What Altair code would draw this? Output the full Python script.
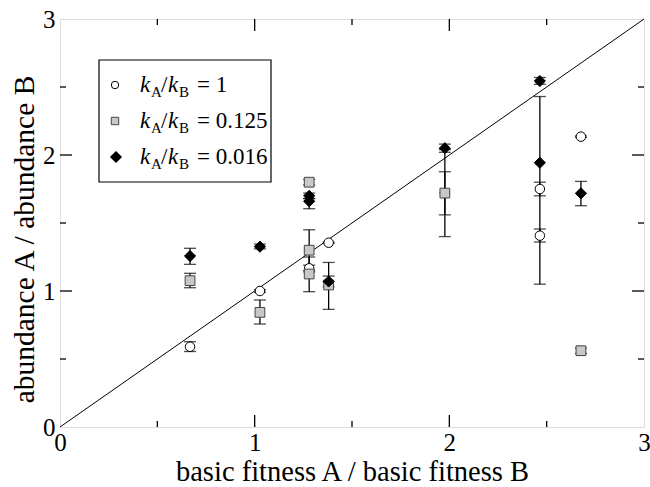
import altair as alt
import pandas as pd

# ---------------- data ----------------
# k_A/k_B = 1  (open circles)
c_x  = [0.668, 1.027, 1.28, 1.38, 1.977, 2.465, 2.465, 2.676]
c_y  = [0.59, 1.00, 1.167, 1.355, 1.72, 1.75, 1.407, 2.135]
c_lo = [0.555, 0.99, 1.14, 1.35, 1.56, 1.70, 1.36, 2.13]
c_hi = [0.627, 1.01, 1.19, 1.36, 1.877, 1.80, 1.456, 2.14]

# k_A/k_B = 0.125  (grey squares)
s_x  = [0.668, 1.027, 1.28, 1.28, 1.28, 1.38, 1.977, 2.676]
s_y  = [1.076, 0.843, 1.80, 1.30, 1.125, 1.044, 1.72, 0.561]
s_lo = [1.024, 0.757, 1.78, 1.15, 0.995, 0.865, 1.40, 0.54]
s_hi = [1.13, 0.934, 1.82, 1.45, 1.25, 1.21, 2.04, 0.58]

# k_A/k_B = 0.016  (black diamonds)
d_x  = [0.668, 1.027, 1.28, 1.28, 1.38, 1.977, 2.465, 2.465, 2.676]
d_y  = [1.257, 1.326, 1.70, 1.66, 1.07, 2.05, 2.544, 1.943, 1.718]
d_lo = [1.196, 1.31, 1.68, 1.605, 1.03, 2.02, 2.52, 1.05, 1.627]
d_hi = [1.314, 1.345, 1.72, 1.68, 1.11, 2.08, 2.57, 2.43, 1.806]

diag_x = [0, 3]
diag_y = [0, 3]

tick_labels = [0, 1, 2, 3]
major_ticks = [1, 2]
minor_ticks = [0.5, 1.5, 2.5]

legend_values = ["= 1", "= 0.125", "= 0.016"]

# ---------------- layout constants ----------------
W, H = 584, 408
FONT = "'Liberation Serif', 'Times New Roman', Times, 'DejaVu Serif', serif"

df_c = pd.DataFrame({"x": c_x, "y": c_y, "lo": c_lo, "hi": c_hi})
df_s = pd.DataFrame({"x": s_x, "y": s_y, "lo": s_lo, "hi": s_hi})
df_d = pd.DataFrame({"x": d_x, "y": d_y, "lo": d_lo, "hi": d_hi})
df_err = pd.concat([df_c, df_s, df_d], ignore_index=True)
df_diag = pd.DataFrame({"x": diag_x, "y": diag_y})

xscale = alt.Scale(domain=[0, 3], nice=False, zero=False)
yscale = alt.Scale(domain=[0, 3], nice=False, zero=False)

xaxis = alt.Axis(values=tick_labels, format="d", ticks=False, domain=False, grid=False,
                 labelFont=FONT, labelFontSize=25, labelColor="black", labelPadding=3,
                 labelFlush=False, labelOverlap=False, labelBound=False,
                 title="basic fitness A / basic fitness B", titleFont=FONT,
                 titleFontSize=28.5, titleFontWeight="normal", titleColor="black",
                 titleBaseline="alphabetic", titleY=53)
yaxis = alt.Axis(values=tick_labels, format="d", ticks=False, domain=False, grid=False,
                 labelFont=FONT, labelFontSize=25, labelColor="black", labelPadding=5,
                 labelFlush=False, labelOverlap=False, labelBound=False,
                 title="abundance A / abundance B", titleFont=FONT,
                 titleFontSize=29.5, titleFontWeight="normal", titleColor="black",
                 titleBaseline="alphabetic", titleX=-27, titleY=220, titleAngle=-90)

base_x = alt.X("x:Q", scale=xscale, axis=xaxis)
base_y = alt.Y("y:Q", scale=yscale, axis=yaxis)

diag = alt.Chart(df_diag).mark_line(color="black", strokeWidth=1).encode(x=base_x, y=base_y)

err_bar = alt.Chart(df_err).mark_rule(color="black", strokeWidth=1.3).encode(
    x=alt.X("x:Q", scale=xscale), y=alt.Y("lo:Q", scale=yscale), y2="hi:Q")
cap_lo = alt.Chart(df_err).mark_tick(orient="horizontal", size=12, thickness=1.3, color="black").encode(
    x=alt.X("x:Q", scale=xscale), y=alt.Y("lo:Q", scale=yscale))
cap_hi = alt.Chart(df_err).mark_tick(orient="horizontal", size=12, thickness=1.3, color="black").encode(
    x=alt.X("x:Q", scale=xscale), y=alt.Y("hi:Q", scale=yscale))

pts_c = alt.Chart(df_c).mark_point(shape="circle", size=90, filled=True, fill="white",
                                   stroke="black", strokeWidth=1, opacity=1).encode(
    x=alt.X("x:Q", scale=xscale), y=alt.Y("y:Q", scale=yscale))
pts_s = alt.Chart(df_s).mark_point(shape="square", size=95, filled=True, fill="#c8c8c8",
                                   stroke="#444444", strokeWidth=1, opacity=1).encode(
    x=alt.X("x:Q", scale=xscale), y=alt.Y("y:Q", scale=yscale))
pts_d = alt.Chart(df_d).mark_point(shape="diamond", size=125, filled=True, fill="black",
                                   stroke="black", strokeWidth=1, opacity=1).encode(
    x=alt.X("x:Q", scale=xscale), y=alt.Y("y:Q", scale=yscale))

# inward axis ticks on all four sides
df_maj = pd.DataFrame({"v": major_ticks})
df_min = pd.DataFrame({"v": minor_ticks})

def xticks(df, length):
    bot = alt.Chart(df).mark_rule(color="black", strokeWidth=1.3).encode(
        x=alt.X("v:Q", scale=xscale), y=alt.value(H), y2=alt.value(H - length))
    top = alt.Chart(df).mark_rule(color="black", strokeWidth=1.3).encode(
        x=alt.X("v:Q", scale=xscale), y=alt.value(0), y2=alt.value(length))
    return bot + top

def yticks(df, length):
    left = alt.Chart(df).mark_rule(color="black", strokeWidth=1.3).encode(
        y=alt.Y("v:Q", scale=yscale), x=alt.value(0), x2=alt.value(length))
    right = alt.Chart(df).mark_rule(color="black", strokeWidth=1.3).encode(
        y=alt.Y("v:Q", scale=yscale), x=alt.value(W), x2=alt.value(W - length))
    return left + right

ticks = xticks(df_maj, 12) + xticks(df_min, 6) + yticks(df_maj, 12) + yticks(df_min, 6)

# ---------------- manual legend ----------------
row_y = [66, 102, 138]
leg_box = alt.Chart(pd.DataFrame({"a": [0]})).mark_rect(
    fill="white", stroke="black", strokeWidth=1.2).encode(
    x=alt.value(39), x2=alt.value(211), y=alt.value(41), y2=alt.value(163))

leg_sym = pd.DataFrame({"px": [55, 55, 56], "py": row_y})
leg_c = alt.Chart(leg_sym.iloc[[0]]).mark_point(shape="circle", size=55, filled=True, fill="white",
                                                stroke="black", strokeWidth=1, opacity=1).encode(
    x=alt.X("px:Q", scale=None), y=alt.Y("py:Q", scale=None))
leg_s = alt.Chart(leg_sym.iloc[[1]]).mark_point(shape="square", size=55, filled=True, fill="#c8c8c8",
                                                stroke="#444444", strokeWidth=1, opacity=1).encode(
    x=alt.X("px:Q", scale=None), y=alt.Y("py:Q", scale=None))
leg_d = alt.Chart(leg_sym.iloc[[2]]).mark_point(shape="diamond", size=85, filled=True, fill="black",
                                                stroke="black", opacity=1).encode(
    x=alt.X("px:Q", scale=None), y=alt.Y("py:Q", scale=None))

pieces = []
for i, val in enumerate(legend_values):
    base = row_y[i] + 7
    pieces += [
        ("k", 80, base, 23, "italic"),
        ("A", 91, base + 5, 15, "normal"),
        ("/", 101, base, 23, "normal"),
        ("k", 108, base, 23, "italic"),
        ("B", 119, base + 5, 15, "normal"),
        (val, 137, base, 23, "normal"),
    ]
df_txt = pd.DataFrame(pieces, columns=["t", "px", "py", "fs", "style"])

leg_text = []
for (fs, style), g in df_txt.groupby(["fs", "style"]):
    leg_text.append(alt.Chart(g).mark_text(font=FONT, fontSize=int(fs), fontStyle=style,
                                            align="left", baseline="alphabetic", color="black").encode(
        x=alt.X("px:Q", scale=None), y=alt.Y("py:Q", scale=None), text="t:N"))

chart = alt.layer(diag, err_bar, cap_lo, cap_hi, pts_c, pts_s, pts_d, ticks,
                  leg_box, leg_c, leg_s, leg_d, *leg_text).properties(
    width=W, height=H,
    autosize=alt.AutoSizeParams(type="none"),
    padding={"left": 60, "top": 19, "right": 6, "bottom": 60},
).configure_view(stroke="black", strokeWidth=1.5).configure(background="white")

chart.save("out.html", embed_options={"renderer": "svg", "actions": False})
